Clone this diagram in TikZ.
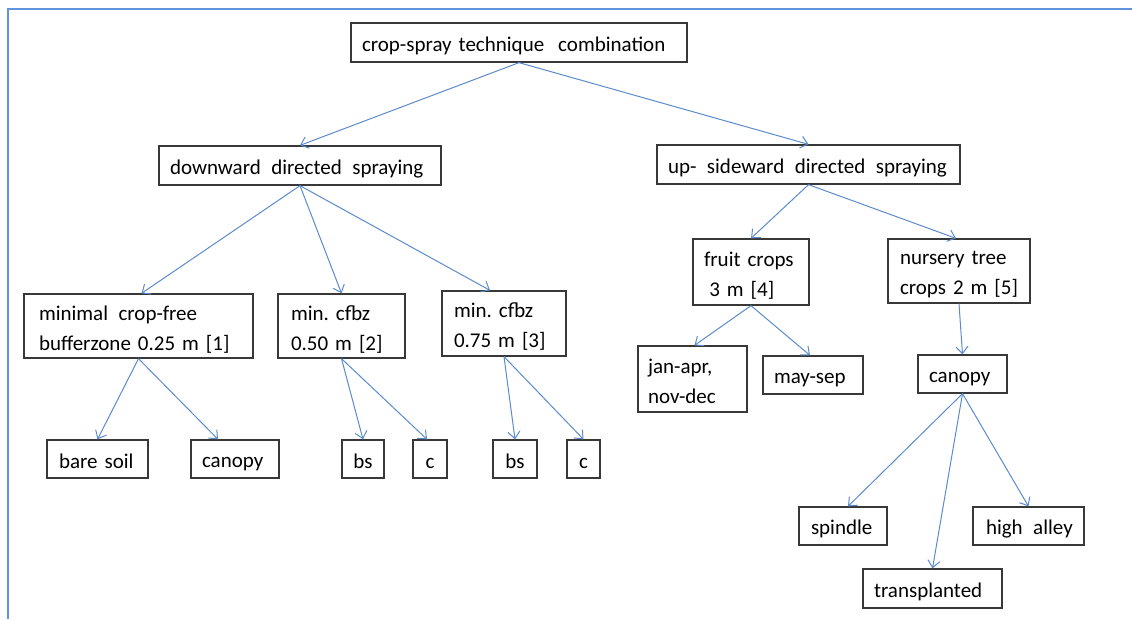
\documentclass[tikz,border=0pt]{standalone}
\usepackage{fontspec}
\setmainfont{Carlito}
\usetikzlibrary{arrows.meta}
\definecolor{framec}{RGB}{96,146,222}
\definecolor{arrowc}{RGB}{91,139,205}
\definecolor{boxc}{RGB}{56,56,56}
\newcommand\Ln[1]{\mbox{\rule[-3pt]{0pt}{24pt}#1}}
\begin{document}
\begin{tikzpicture}[x=1pt,y=-1pt,
  every node/.style={font=\fontsize{21}{30}\selectfont\frenchspacing, text=black},
  box/.style={draw=boxc, line width=1.3pt, inner ysep=0pt, align=left, minimum height=38pt},
  cbox/.style={draw=boxc, line width=1.3pt, inner sep=0pt, align=center, minimum height=38pt},
  conn/.style={draw=arrowc, line width=1pt, -{Straight Barb[length=7pt,width=12pt]}},
  frame/.style={draw=framec, line width=2pt}]
\useasboundingbox (0,0) rectangle (1132,619);
\draw[frame] (8,619) -- (8,9) -- (1132,9);

% nodes
\node[box, inner xsep=11pt, text width=314pt, minimum height=39pt] (root) at (519,42.5) {\Ln{crop-spray technique\ \ combination}};
\node[box, inner xsep=11pt, text width=260pt, minimum height=39pt] (down) at (300,165.5) {\Ln{downward\, directed\, spraying}};
\node[box, inner xsep=11pt, text width=281pt, minimum height=39pt] (up) at (808.5,164.5) {\Ln{up-\, sideward\, directed\, spraying}};

\node[box, inner xsep=15pt, text width=199pt, minimum height=64pt] (min1) at (138.5,326) {\Ln{minimal\, crop-free}\\\Ln{bufferzone 0.25 m [1]}};
\node[box, inner xsep=13pt, text width=101pt, minimum height=64pt] (min2) at (341.5,326) {\Ln{min. cfbz}\\\Ln{0.50 m [2]}};
\node[box, inner xsep=12pt, text width=100pt, minimum height=65pt] (min3) at (504,323.5) {\Ln{min. cfbz}\\\Ln{0.75 m [3]}};

\node[box, inner xsep=12pt, text width=77pt] (bare) at (97.5,459) {\Ln{bare soil}};
\node[box, inner xsep=11pt, text width=66pt] (can1) at (235,459) {\Ln{canopy}};
\node[cbox, minimum width=42pt] (bs1) at (363,459) {\Ln{bs}};
\node[cbox, minimum width=34pt] (c1) at (430,459) {\Ln{c}};
\node[cbox, minimum width=44pt] (bs2) at (515,459) {\Ln{bs}};
\node[cbox, minimum width=33pt] (c2) at (583.5,459) {\Ln{c}};

\node[box, inner xsep=11pt, text width=94pt, minimum height=66pt] (fruit) at (751,272) {\Ln{fruit crops}\\\Ln{\hspace{0.25em}3 m [4]}};
\node[box, inner xsep=12pt, text width=118pt, minimum height=64pt] (nurs) at (959,271) {\Ln{nursery tree}\\\Ln{crops 2 m [5]}};

\node[box, inner xsep=10pt, text width=89pt, minimum height=66pt] (jan) at (692.5,379) {\Ln{jan-apr,}\\\Ln{nov-dec}};
\node[box, inner xsep=11pt, text width=78pt] (may) at (813,375) {\Ln{may-sep}};
\node[box, inner xsep=11pt, text width=67pt] (can2) at (962.5,374) {\Ln{canopy}};

\node[box, inner xsep=12pt, text width=64pt] (spin) at (843,526) {\Ln{spindle}};
\node[box, inner xsep=13pt, text width=85pt] (high) at (1028.5,526) {\Ln{high\, alley}};
\node[box, inner xsep=11pt, text width=117pt, minimum height=39pt] (trans) at (932.5,588.5) {\Ln{transplanted}};

% connectors
\draw[conn] (root.south) -- (down.north);
\draw[conn] (root.south) -- (up.north);
\draw[conn] (down.south) -- ([xshift=3pt]min1.north);
\draw[conn] (down.south) -- (min2.north);
\draw[conn] (down.south) -- ([xshift=-14pt]min3.north);
\draw[conn] (up.south) -- (fruit.north);
\draw[conn] (up.south) -- ([xshift=-3pt]nurs.north);
\draw[conn] (min1.south) -- (bare.north);
\draw[conn] (min1.south) -- ([xshift=-17pt]can1.north);
\draw[conn] (min2.south) -- (bs1.north);
\draw[conn] (min2.south) -- ([xshift=-3pt]c1.north);
\draw[conn] (min3.south) -- (bs2.north);
\draw[conn] (min3.south) -- (c2.north);
\draw[conn] (fruit.south) -- ([xshift=2pt]jan.north);
\draw[conn] (fruit.south) -- ([xshift=-3pt]may.north);
\draw[conn] (nurs.south) -- (can2.north);
\draw[conn] (can2.south) -- ([xshift=5pt]spin.north);
\draw[conn] (can2.south) -- (trans.north);
\draw[conn] (can2.south) -- (high.north);
\end{tikzpicture}
\end{document}
